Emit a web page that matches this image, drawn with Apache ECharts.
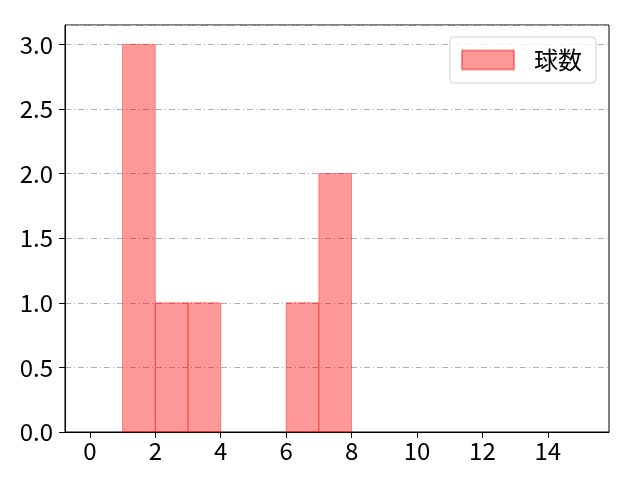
<!DOCTYPE html>
<html>
<head>
<meta charset="utf-8">
<script src="https://cdn.jsdelivr.net/npm/echarts@6/dist/echarts.min.js"></script>
<style>
html,body{margin:0;padding:0;background:#fff;}
#main{width:640px;height:480px;}
</style>
</head>
<body>
<div id="main"></div>
<script>
// ヒストグラムのビン（左端, 右端）と度数
var binStart = [1, 2, 3, 6, 7];
var binEnd = [2, 3, 4, 7, 8];
var counts = [3, 1, 1, 1, 2];
var xTicks = [0, 2, 4, 6, 8, 10, 12, 14];
var yTicks = [0, 0.5, 1.0, 1.5, 2.0, 2.5, 3.0];
var seriesName = '球数';

var myChart = echarts.init(document.getElementById('main'));

var barData = [];
for (var i = 0; i < counts.length; i++) {
    barData.push([binStart[i], binEnd[i], counts[i]]);
}

var font = '"Noto Sans CJK JP", "Noto Sans", sans-serif';

var option = {
    animation: false,
    grid: {
        left: 65, right: 31, top: 25, bottom: 48,
        show: true, borderColor: '#000', borderWidth: 1
    },
    legend: {
        data: [{ name: seriesName, icon: 'rect' }],
        right: 44, top: 37,
        padding: [11, 14, 11, 11],
        itemWidth: 52, itemHeight: 19, itemGap: 10,
        borderColor: '#d0d0d0', borderWidth: 1, borderRadius: 4,
        backgroundColor: 'rgba(255,255,255,0.8)',
        textStyle: { fontFamily: font, fontSize: 24, color: '#000', padding: [0, 0, 0, 15] }
    },
    xAxis: {
        type: 'value',
        min: -0.76, max: 15.87,
        axisLine: { show: true, onZero: false, lineStyle: { color: '#000' } },
        axisTick: { show: true, length: 6, customValues: xTicks, lineStyle: { color: '#000' } },
        axisLabel: { customValues: xTicks, fontFamily: font, fontSize: 24, color: '#000', margin: 7 },
        splitLine: { show: false }
    },
    yAxis: {
        type: 'value',
        min: 0, max: 3.15, interval: 0.5,
        axisLine: { show: true, onZero: false, lineStyle: { color: '#000' } },
        axisTick: { show: true, length: 6, lineStyle: { color: '#000' } },
        axisLabel: {
            showMaxLabel: false,
            fontFamily: font, fontSize: 24, color: '#000', margin: 12,
            formatter: function (v) { return yTicks.indexOf(v) >= 0 ? v.toFixed(1) : ''; }
        },
        splitLine: {
            show: true,
            lineStyle: { color: '#b0b0b0', width: 1, type: [6, 3, 1, 3] }
        }
    },
    series: [{
        name: seriesName,
        type: 'custom',
        itemStyle: { color: 'rgba(255,0,0,0.4)', borderColor: 'rgba(255,0,0,0.4)', borderWidth: 1 },
        encode: { x: [0, 1], y: 2 },
        renderItem: function (params, api) {
            var p0 = api.coord([api.value(0), api.value(2)]);
            var p1 = api.coord([api.value(1), 0]);
            return {
                type: 'rect',
                shape: { x: p0[0], y: p0[1], width: p1[0] - p0[0], height: p1[1] - p0[1] },
                style: { fill: 'rgba(255,0,0,0.4)', stroke: 'rgba(255,0,0,0.4)', lineWidth: 1 }
            };
        },
        data: barData
    }]
};
myChart.setOption(option);
</script>
</body>
</html>
